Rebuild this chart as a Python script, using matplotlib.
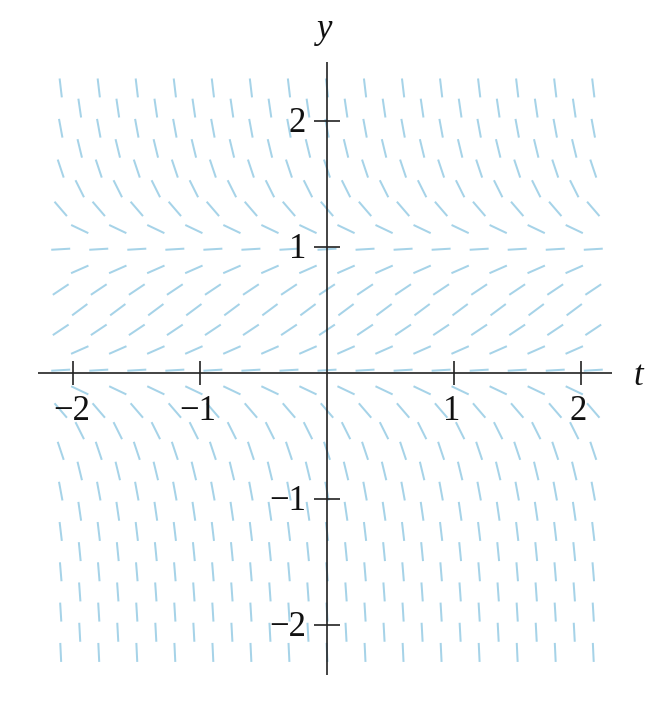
import numpy as np
import matplotlib
matplotlib.use("Agg")
import matplotlib.pyplot as plt
from matplotlib.collections import LineCollection

# ---- data ----
# slope field of dy/dt = k * y * (1 - y)
slope_coef = 3.0
y_rows = [-2.22, -2.06, -1.90, -1.74, -1.58, -1.42, -1.26, -1.10, -0.94, -0.78,
          -0.62, -0.46, -0.30, -0.14, 0.02, 0.18, 0.34, 0.50, 0.66, 0.82,
          0.98, 1.14, 1.30, 1.46, 1.62, 1.78, 1.94, 2.10, 2.26]
t_cols_even = [-2.1, -1.8, -1.5, -1.2, -0.9, -0.6, -0.3, 0.0, 0.3, 0.6, 0.9, 1.2, 1.5, 1.8, 2.1]
t_cols_odd = [-1.95, -1.65, -1.35, -1.05, -0.75, -0.45, -0.15, 0.15, 0.45, 0.75, 1.05, 1.35, 1.65, 1.95]
x_ticks = [-2, -1, 1, 2]
x_tick_labels = ["\u22122", "\u22121", "1", "2"]
y_ticks = [-2, -1, 1, 2]
y_tick_labels = ["\u22122", "\u22121", "1", "2"]

# ---- figure ----
W, H, DPI = 656, 706, 100
fig = plt.figure(figsize=(W / DPI, H / DPI), dpi=DPI)
ax = fig.add_axes([0, 0, 1, 1])
x0_px, ux = 327.0, 126.8   # pixel of t=0, pixels per unit
y0_px, uy = 372.7, 126.0   # pixel (from top) of y=0, pixels per unit
ax.set_xlim(-x0_px / ux, (W - x0_px) / ux)
ax.set_ylim(-(H - y0_px) / uy, y0_px / uy)
ax.axis("off")

# slope segments
half_px = 9.5
segs = []
for i, yv in enumerate(y_rows):
    cols = t_cols_even if i % 2 == 0 else t_cols_odd
    s = slope_coef * yv * (1 - yv)
    dxp, dyp = ux * 1.0, uy * s
    n = np.hypot(dxp, dyp)
    hx = half_px * dxp / n / ux
    hy = half_px * dyp / n / uy
    for tv in cols:
        segs.append([(tv - hx, yv - hy), (tv + hx, yv + hy)])
lc = LineCollection(segs, colors="#a6d3e8", linewidths=1.45, capstyle="butt")
ax.add_collection(lc)

# axes lines
axcol = "#222222"
lw_ax = 1.2
ax.plot([(38 - x0_px) / ux, (612 - x0_px) / ux], [0, 0], color=axcol, lw=lw_ax, solid_capstyle="butt")
ax.plot([0, 0], [-(675 - y0_px) / uy, (y0_px - 62) / uy], color=axcol, lw=lw_ax, solid_capstyle="butt")

tick_half = 12.0
for xt in x_ticks:
    ax.plot([xt, xt], [-tick_half / uy, tick_half / uy], color=axcol, lw=lw_ax, solid_capstyle="butt")
for yt in y_ticks:
    ax.plot([-13 / ux, 13 / ux], [yt, yt], color=axcol, lw=lw_ax, solid_capstyle="butt")

serif = ["Liberation Serif", "DejaVu Serif"]
fs = 25
tcol = "#111111"
for xt, lab in zip(x_ticks, x_tick_labels):
    ax.annotate(lab, xy=(xt, 0), xytext=(-2, -47), textcoords="offset pixels",
                ha="center", va="baseline", fontsize=fs, family=serif, color=tcol)
for yt, lab in zip(y_ticks, y_tick_labels):
    ax.annotate(lab, xy=(0, yt), xytext=(-21, -11.5), textcoords="offset pixels",
                ha="right", va="baseline", fontsize=fs, family=serif, color=tcol)

ax.annotate("t", xy=(0, 0), xytext=(638 - x0_px, -(385 - y0_px)), textcoords="offset pixels",
            ha="center", va="baseline", fontsize=fs, family=serif, style="italic", color=tcol)
ax.annotate("y", xy=(0, 0), xytext=(-2, y0_px - 38), textcoords="offset pixels",
            ha="center", va="baseline", fontsize=fs, family=serif, style="italic", color=tcol)

fig.savefig("out.png", dpi=DPI)
